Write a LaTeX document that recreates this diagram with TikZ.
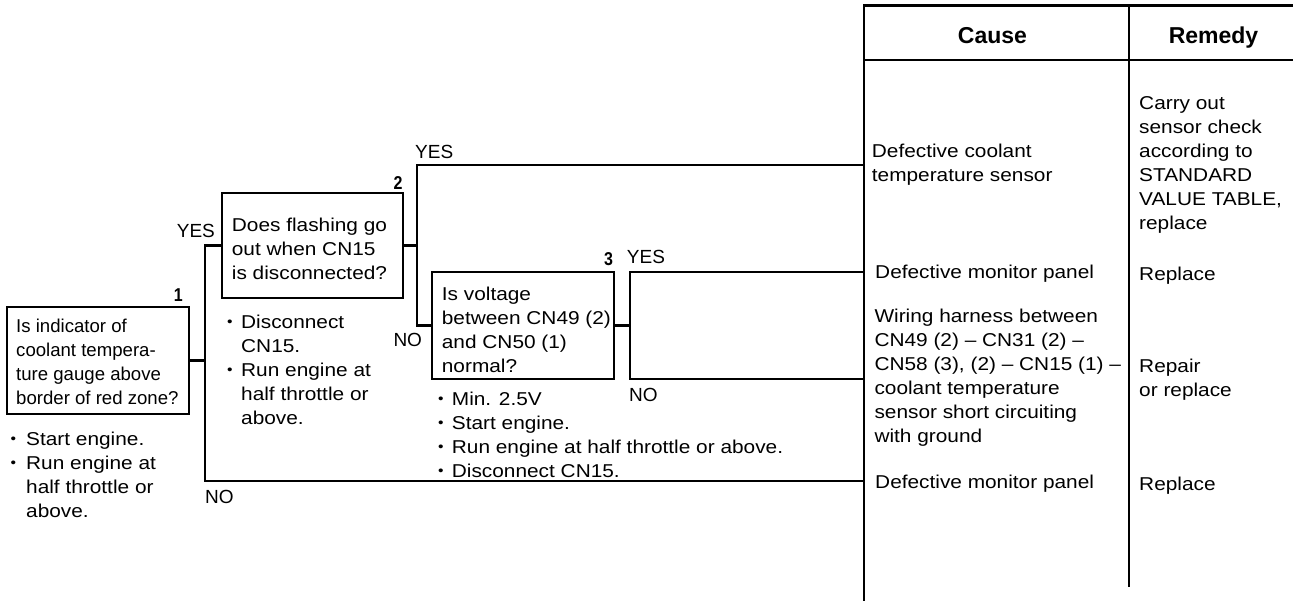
\documentclass[tikz,border=0pt]{standalone}
\usepackage{fontspec}
\setmainfont{Liberation Sans}[FakeStretch=1.12]
\newfontfamily\plainf{Liberation Sans}
\newfontfamily\condf{Liberation Sans}[FakeStretch=0.86]
\newcommand\bu[1]{\makebox[#1][l]{\raisebox{1.8pt}{\fontsize{14}{14}\selectfont\textbullet}}}
\newcommand\ind[1]{\hspace*{#1}}
\tikzset{
  ln/.style={line width=2.5pt, line join=miter},
  qbox/.style={draw, line width=2.6pt, inner sep=0pt},
  txt/.style={anchor=north west, inner sep=0pt, align=left, font=\fontsize{18.6}{24}\selectfont},
  ptxt/.style={anchor=north west, inner sep=0pt, align=left, font=\plainf\fontsize{18.6}{24}\selectfont},
  lbl/.style={anchor=base west, inner sep=0pt, font=\plainf\fontsize{19}{24}\selectfont},
  num/.style={anchor=base east, inner sep=0pt, font=\condf\bfseries\fontsize{18.6}{24}\selectfont},
  head/.style={anchor=base, inner sep=0pt, font=\plainf\bfseries\fontsize{23}{26}\selectfont},
}
\begin{document}
\begin{tikzpicture}[x=1pt,y=-1pt]
\useasboundingbox[fill=white] (0,0) rectangle (1293,601);

% table frame
\coordinate (tb) at (864,601);
\coordinate (tl) at (864,5.5);
\coordinate (tr) at (1293,5.5);
\coordinate (hl) at (864,60);
\coordinate (hr) at (1293,60);
\coordinate (ct) at (1129,5.5);
\coordinate (cb) at (1129,587);
\draw[ln] (tb) -- (tl) -- (tr);
\draw[ln] (hl) -- (hr);
\draw[ln] (ct) -- (cb);
\node[head] (hcause) at (992.5,43.3) {Cause};
\node[head] (hremedy) at (1213.5,43.3) {Remedy};

% question boxes
\node[qbox, minimum width=182pt, minimum height=107pt] (q1) at (98,360.5) {};
\node[qbox, minimum width=181pt, minimum height=105pt] (q2) at (312.5,245.5) {};
\node[qbox, minimum width=182pt, minimum height=107pt] (q3) at (523,325.5) {};

\node[ptxt] (q1t) at (16,315.9) {\strut Is indicator of\\coolant tempera-\\ture gauge above\\border of red zone?};
\node[txt] (q2t) at (231.7,214.9) {\strut Does flashing go\\out when CN15\\is disconnected?};
\node[txt] (q3t) at (441.7,283.2) {\strut Is voltage\\between CN49 (2)\\and CN50 (1)\\normal?};

\node[num] (n1) at (183,301.7) {1};
\node[num] (n2) at (402.7,190) {2};
\node[num] (n3) at (613.3,266) {3};

% notes
\node[txt] (q1n) at (10.5,428.2) {\strut\bu{15.5pt}Start engine.\\\bu{15.5pt}Run engine at\\\ind{15.5pt}half throttle or\\\ind{15.5pt}above.};
\node[txt] (q2n) at (227,311.5) {\strut\bu{14pt}Disconnect\\\ind{14pt}CN15.\\\bu{14pt}Run engine at\\\ind{14pt}half throttle or\\\ind{14pt}above.};
\node[txt] (q3n) at (438,388.2) {\strut\bu{13.7pt}Min. 2.5V\\\bu{13.7pt}Start engine.\\\bu{13.7pt}Run engine at half throttle or above.\\\bu{13.7pt}Disconnect CN15.};

% junction coordinates
\coordinate (j1t) at (205,245.5);
\coordinate (j1b) at (205,481);
\coordinate (j2t) at (417,165);
\coordinate (j2b) at (417,325.5);
\coordinate (j3t) at (630,272);
\coordinate (j3b) at (630,379);
\coordinate (t1) at (864,165);
\coordinate (t2) at (864,272);
\coordinate (t3) at (864,379);
\coordinate (t4) at (864,481);

% connectors
\draw[ln] (q1.east) -- (q1.east -| j1t);
\draw[ln] (q2.west) -- (j1t) -- (j1b) -- (t4);
\draw[ln] (q2.east) -- (q2.east -| j2t);
\draw[ln] (t1) -- (j2t) -- (j2b) -- (q3.west);
\draw[ln] (q3.east) -- (q3.east -| j3t);
\draw[ln] (t2) -- (j3t) -- (j3b) -- (t3);

% branch labels
\node[lbl] (y1) at (176.7,237.3) {YES};
\node[lbl] (no1) at (205,503) {NO};
\node[lbl] (y2) at (415,158.3) {YES};
\node[lbl] (no2) at (393.3,346.7) {NO};
\node[lbl] (y3) at (626.7,264) {YES};
\node[lbl] (no3) at (629,401.7) {NO};

% causes
\node[txt] (c1) at (871.7,140.2) {\strut Defective coolant\\temperature sensor};
\node[txt] (c2) at (875,261.5) {\strut Defective monitor panel};
\node[txt] (c3) at (874.3,305.9) {\strut Wiring harness between\\CN49 (2) – CN31 (2) –\\CN58 (3), (2) – CN15 (1) –\\coolant temperature\\sensor short circuiting\\with ground};
\node[txt] (c4) at (875,471.9) {\strut Defective monitor panel};

% remedies
\node[txt] (r1) at (1139,92.5) {\strut Carry out\\sensor check\\according to\\STANDARD\\VALUE TABLE,\\replace};
\node[txt] (r2) at (1139,263.2) {\strut Replace};
\node[txt] (r3) at (1139,355.9) {\strut Repair\\or replace};
\node[txt] (r4) at (1139,473.2) {\strut Replace};
\end{tikzpicture}
\end{document}
